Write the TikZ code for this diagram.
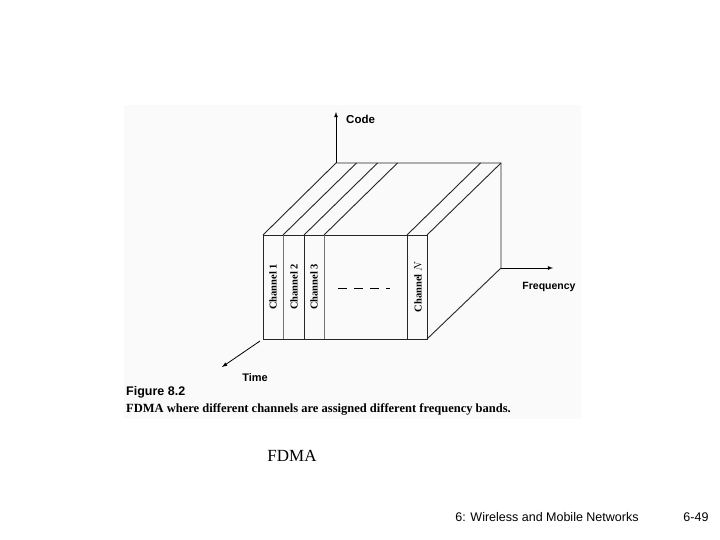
\documentclass[tikz,border=0pt]{standalone}
\usepackage{fontspec}
\setsansfont{Liberation Sans}
\setmainfont{Liberation Serif}
\begin{document}
\begin{tikzpicture}[x=1pt,y=-1pt,
  edge/.style={line width=0.9pt,black!85},
  lbl/.style={font=\sffamily\bfseries\fontsize{10.5}{12}\selectfont,inner sep=0pt},
  ch/.style={font=\rmfamily\bfseries\fontsize{10.5}{12}\selectfont,rotate=90,inner sep=0pt},
  ax/.style={line width=0.8pt,-latex}]
\useasboundingbox (0,0) rectangle (720,540);
\fill[black!2] (124,105) rectangle (581,419);
\coordinate (fa) at (263,235); \coordinate (fb) at (427,235);
\coordinate (fc) at (427,339); \coordinate (fd) at (263,339);
\coordinate (ba) at (336,163); \coordinate (bb) at (501,163); \coordinate (bc) at (501,268);
\draw[edge] (fa) -- (fb) -- (fc) -- (fd) -- cycle;
\draw[edge] (fa) -- (ba) -- (bb) -- (bc) -- (fc);
\draw[edge] (fb) -- (bb);
\foreach \x/\g in {283/55,304/85,324/55,407/85}{
  \draw[line width=0.9pt,black!\g] (\x,235) -- (\x,339);
  \draw[edge] (\x,235) -- (\x+73.5,163);
}
\node[ch] (c1) at (273,287) {Channel 1};
\node[ch] (c2) at (294,287) {Channel 2};
\node[ch] (c3) at (314,287) {Channel 3};
\node[ch] (cn) at (418,287) {Channel $N$};
\draw[line width=1pt,dash pattern=on 9pt off 7pt] (338,288) -- (390,288);
\coordinate (c0) at (336,112); \coordinate (f0) at (553,268); \coordinate (t0) at (222,367);
\draw[ax] (ba) -- (c0);
\draw[ax] (bc) -- (f0);
\draw[ax] (260,341) -- (t0);
\node[lbl,anchor=west,font=\sffamily\bfseries\fontsize{11.5}{13}\selectfont] (code) at (346,119) {Code};
\node[lbl] (freq) at (549,287) {Frequency};
\node[lbl,font=\sffamily\bfseries\fontsize{11}{13}\selectfont] (time) at (255,378) {Time};
\node[font=\sffamily\bfseries\fontsize{12.5}{14}\selectfont,anchor=west,inner sep=0pt] (fig) at (126,392) {Figure 8.2};
\node[font=\rmfamily\bfseries\fontsize{12.5}{14}\selectfont,anchor=west,inner sep=0pt] (cap) at (126,409) {FDMA where different channels are assigned different frequency bands.};
\node[font=\rmfamily\fontsize{17}{20}\selectfont] (fdma) at (292,456) {FDMA};
\node[font=\sffamily\fontsize{12.5}{14}\selectfont] (foot) at (547,517) {6: Wireless and Mobile Networks};
\node[font=\sffamily\fontsize{12.5}{14}\selectfont] (pg) at (696,517) {6-49};
\end{tikzpicture}
\end{document}
